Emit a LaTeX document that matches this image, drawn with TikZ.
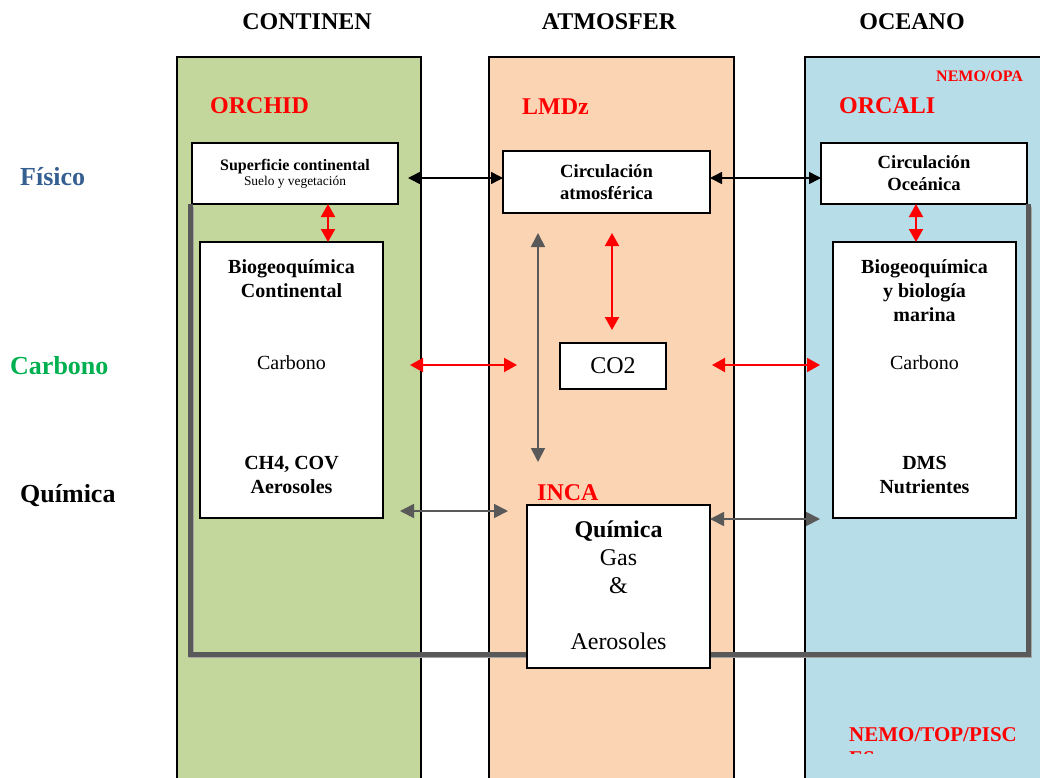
\documentclass[tikz,border=0pt]{standalone}
\usepackage{fontspec}
\setmainfont{Liberation Serif}
\usetikzlibrary{arrows.meta}

\definecolor{landgreen}{HTML}{C3D69B}
\definecolor{airorange}{HTML}{FBD4B4}
\definecolor{seablue}{HTML}{B7DDE8}
\definecolor{fisblue}{HTML}{365F91}
\definecolor{carbgreen}{HTML}{00B050}
\definecolor{loopgray}{HTML}{595959}

\begin{document}
\begin{tikzpicture}[x=1pt, y=-1pt,
    column/.style={draw=black, line width=1.5pt},
    box/.style={draw=black, fill=white, line width=2pt, anchor=north west, align=center, inner sep=0pt, outer sep=0pt},
    txt/.style={inner sep=0pt, align=center},
    redlab/.style={inner sep=0pt, anchor=west, text=red, font=\fontsize{24}{28}\selectfont\bfseries},
    redarrow/.style={red, line width=2pt, {Triangle[length=13pt,width=14pt]}-{Triangle[length=13pt,width=14pt]}},
    grayarrow/.style={loopgray, line width=1.8pt, {Triangle[length=14pt,width=14pt]}-{Triangle[length=14pt,width=14pt]}},
    blkarrow/.style={black, line width=1.5pt, {Triangle[length=12pt,width=12pt]}-{Triangle[length=12pt,width=12pt]}}]

  \useasboundingbox (0,0) rectangle (1040,777);

  % columnas
  \draw[column, fill=landgreen] (177,57) rectangle (421,790);
  \draw[column, fill=airorange] (489,57) rectangle (734,790);
  \draw[column, fill=seablue] (805,57) rectangle (1060,790);

  \node[txt, font=\fontsize{24}{28}\selectfont\bfseries] (hcont) at (307,22) {CONTINEN};
  \node[txt, font=\fontsize{24}{28}\selectfont\bfseries] (hatm) at (609,22) {ATMOSFER};
  \node[txt, font=\fontsize{24}{28}\selectfont\bfseries] (hoce) at (912,22) {OCEANO};

  \node[txt, anchor=west, text=fisblue, font=\fontsize{26}{30}\selectfont\bfseries] (lfis) at (20,177) {Físico};
  \node[txt, anchor=west, text=carbgreen, font=\fontsize{26}{30}\selectfont\bfseries] (lcarb) at (10,366) {Carbono};
  \node[txt, anchor=west, font=\fontsize{26}{30}\selectfont\bfseries] (lquim) at (20,496) {Química};

  \node[redlab] (orchid) at (210,106) {ORCHID};
  \node[redlab] (lmdz) at (522,107) {LMDz};
  \node[redlab] (orcali) at (839,106) {ORCALI};
  \node[redlab, font=\fontsize{16}{19}\selectfont\bfseries] (nemo) at (936,76) {NEMO/OPA};
  \node[redlab] (inca) at (537,493) {INCA};
  \begin{scope}
    \clip (840,700) rectangle (1040,753);
    \node[redlab, anchor=north west, align=left, font=\fontsize{21}{24}\selectfont\bfseries] (pisces) at (849,727) {NEMO/TOP/PISC\\ES};
  \end{scope}

  % cajas fisicas
  \node[box, minimum width=206pt, minimum height=61pt] (sup) at (192,143)
    {{\fontsize{16}{18}\selectfont\bfseries Superficie continental}\\[1pt]{\fontsize{13.4}{16}\selectfont Suelo y vegetación}};
  \node[box, minimum width=207pt, minimum height=62pt, font=\fontsize{18.6}{22}\selectfont\bfseries] (catm) at (503,151)
    {Circulación\\atmosférica};
  \node[box, minimum width=206pt, minimum height=61pt, font=\fontsize{18.6}{22}\selectfont\bfseries] (coce) at (821,143)
    {Circulación\\Oceánica};

  % bucle gris
  \coordinate (lpL) at (190,654);
  \coordinate (lpR) at (1028,654);
  \draw[loopgray!55, line width=5pt] ([shift={(1.5,1.5)}]190,205) -- ([shift={(1.5,1.5)}]lpL) -- ([shift={(1.5,1.5)}]lpR) -- ([shift={(1.5,1.5)}]1028,205);
  \draw[loopgray, line width=5pt] (sup.south west -| lpL) -- (lpL) -- (lpR) -- (coce.south east -| lpR);

  % cajas de carbono y quimica
  \node[box, minimum width=183pt, minimum height=276pt] (bcont) at (200,242) {};
  \node[txt, font=\fontsize{20}{24}\selectfont\bfseries] at (291.5,279) {Biogeoquímica\\Continental};
  \node[txt, font=\fontsize{20}{24}\selectfont] at (291.5,363) {Carbono};
  \node[txt, font=\fontsize{20}{24}\selectfont\bfseries] at (291.5,475) {CH4, COV\\Aerosoles};

  \node[box, minimum width=183pt, minimum height=276pt] (bmar) at (833,242) {};
  \node[txt, font=\fontsize{20}{24}\selectfont\bfseries] at (924.5,291) {Biogeoquímica\\y biología\\marina};
  \node[txt, font=\fontsize{20}{24}\selectfont] at (924.5,363) {Carbono};
  \node[txt, font=\fontsize{20}{24}\selectfont\bfseries] at (924.5,475) {DMS\\Nutrientes};

  \node[box, minimum width=106pt, minimum height=46pt, font=\fontsize{24}{28}\selectfont] (co2) at (560,343) {CO2};

  \node[box, minimum width=183pt, minimum height=163pt] (quim) at (527,505) {};
  \node[txt, anchor=north, font=\fontsize{24}{28}\selectfont] at (618.5,521)
    {\textbf{Química}\\Gas\\\&\\[28pt]Aerosoles};

  % flechas
  \coordinate (blA) at (408,178);
  \draw[blkarrow] (blA) -- (catm.west |- blA);
  \draw[blkarrow] (catm.east |- blA) -- (coce.west |- blA);

  \draw[redarrow] (sup.south -| 328,0) -- (bcont.north -| 328,0);
  \draw[redarrow] (coce.south -| 916,0) -- (bmar.north -| 916,0);

  \coordinate (raT) at (612,233);
  \coordinate (raB) at (612,330);
  \draw[redarrow] (raT) -- (raB);

  \coordinate (gaT) at (538,233);
  \coordinate (gaB) at (538,462);
  \draw[grayarrow] (gaT) -- (gaB);

  \coordinate (rlA) at (410,365);
  \coordinate (rlB) at (517,365);
  \coordinate (rrA) at (712,365);
  \coordinate (rrB) at (820,365);
  \draw[redarrow] (rlA) -- (rlB);
  \draw[redarrow] (rrA) -- (rrB);

  \coordinate (glA) at (400,511);
  \coordinate (glB) at (508,511);
  \coordinate (grB) at (820,519);
  \draw[grayarrow] (glA) -- (glB);
  \draw[grayarrow] (quim.east |- grB) -- (grB);
\end{tikzpicture}
\end{document}
